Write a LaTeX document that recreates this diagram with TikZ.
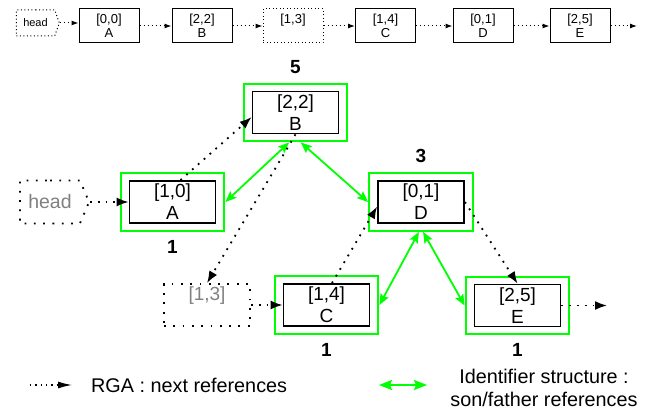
\documentclass[tikz,border=0pt]{standalone}
\usepackage{fontspec}
\setmainfont{Liberation Sans}
\usetikzlibrary{calc,fit,arrows.meta,positioning,shapes.symbols}
\definecolor{idgreen}{RGB}{0,255,0}
\definecolor{ghost}{gray}{0.5}

\begin{document}
\begin{tikzpicture}[x=1pt,y=-1pt]

\tikzset{listnode/.style={draw,line width=1pt,minimum width=60pt,minimum height=34pt,inner sep=0pt,align=center,font=\fontsize{13}{14}\selectfont},
listghost/.style={listnode,draw,dash pattern=on 1pt off 2.5pt},
listhead/.style={shape=signal,signal to=east,signal pointer angle=140,draw,line width=1pt,dash pattern=on 1pt off 2.5pt,minimum width=43pt,minimum height=26pt,inner sep=0pt,font=\fontsize{11}{13}\selectfont},
idnode/.style={draw,line width=1.8pt,minimum width=86pt,minimum height=42pt,inner sep=0pt,align=center,font=\fontsize{19}{22}\selectfont},
idghost/.style={idnode,draw,line width=1.8pt,dash pattern=on 1.8pt off 7.5pt,text=ghost},
idhead/.style={shape=signal,signal to=east,signal pointer angle=134,draw,line width=1.8pt,dash pattern=on 1.8pt off 7.5pt,minimum width=69pt,minimum height=43pt,inner sep=0pt,text=ghost,font=\fontsize{19.5}{22}\selectfont},
idbox/.style={draw=idgreen,line width=2pt,inner xsep=8pt,inner ysep=7pt},
count/.style={font=\bfseries\fontsize{19}{22}\selectfont,inner sep=0pt},
smalllink/.style={line width=1pt,dash pattern=on 1pt off 3pt,-{Latex[length=7pt,width=5pt]}},
nextlink/.style={line width=1.8pt,dash pattern=on 1.8pt off 6pt,-{Latex[length=12pt,width=9pt]}},
idlink/.style={draw=idgreen,line width=1.8pt,{Stealth[length=11pt,width=9pt,inset=2pt]}-{Stealth[length=11pt,width=9pt,inset=2pt]}},
keytext/.style={font=\fontsize{19.8}{22.5}\selectfont,inner sep=0pt}}

\useasboundingbox (0,0) rectangle (651,414);

% RGA as a list
\node[listhead] (lhead) at (35.5,23) {head};
\node[listnode] (la) at (109,26) {[0,0]\\A};
\node[listnode] (lb) at (202,26) {[2,2]\\B};
\node[listghost] (l13) at (293,26) {[1,3]\\\phantom{A}};
\node[listnode] (lc) at (385.5,26) {[1,4]\\C};
\node[listnode] (ld) at (483,26) {[0,1]\\D};
\node[listnode] (le) at (580,26) {[2,5]\\E};
\coordinate (lend) at (637,26);

\draw[smalllink] (lhead.east) -- (lhead.east -| la.west);
\draw[smalllink] (la) -- (lb); \draw[smalllink] (lb) -- (l13); \draw[smalllink] (l13) -- (lc);
\draw[smalllink] (lc) -- (ld); \draw[smalllink] (ld) -- (le); \draw[smalllink] (le) -- (lend);

% Identifier tree
\node[idhead] (ghead) at (50,202) {head};
\node[idnode] (a) at (172.5,202) {[1,0]\\A};
\node[idnode] (b) at (295.5,112.5) {[2,2]\\B};
\node[idnode] (d) at (421,202) {[0,1]\\D};
\node[idghost] (g13) at (207,305) {[1,3]\\\phantom{C}};
\node[idnode] (c) at (326.5,305) {[1,4]\\C};
\node[idnode] (e) at (517.5,305.5) {[2,5]\\E};
\coordinate (eend) at (607,305.5);

% green frames and counts
\foreach \n in {a,b,c,d,e} \node[idbox,fit=(\n)] (\n g) {};
\node[count,above=8.5pt of bg] (nb) {5};
\node[count,above=9pt of dg] (nd) {3};
\node[count,below=8pt of ag] (na) {1};
\node[count,below=8pt of cg] (nc) {1};
\node[count,below=8pt of eg] (ne) {1};

% Son/father references
\draw[idlink] (ag.east) -- (bg.258);
\draw[idlink] (bg.280) -- (dg.west);
\draw[idlink] (dg.266) -- (cg.east);
\draw[idlink] (dg.274) -- (eg.west);

% Next references
\draw[nextlink] (ghead.east) -- (a.west);
\draw[nextlink] (a.70) -- (b.186);
\draw[nextlink] (b.south) -- (g13.north);
\draw[nextlink] (g13.east) -- (c.west);
\draw[nextlink] (c.76) -- (d.186);
\draw[nextlink] (d.east) -- (e.north);
\draw[nextlink] (e.east) -- (eend);

% Legend
\coordinate (k1s) at (30,385); \coordinate (k1e) at (72,385);
\draw[line width=1.3pt,dash pattern=on 1.3pt off 4pt,-{Latex[length=14pt,width=7pt]}] (k1s) -- (k1e);
\node[keytext,anchor=west] (k1t) at (91,385) {RGA : next references};
\coordinate (k2s) at (379,385); \coordinate (k2e) at (427,385);
\draw[idlink,{Stealth[length=13pt,width=10pt,inset=2pt]}-{Stealth[length=13pt,width=10pt,inset=2pt]}] (k2s) -- (k2e);
\node[keytext,align=center] (k2t) at (544,388) {Identifier structure :\\son/father references};

\end{tikzpicture}
\end{document}
